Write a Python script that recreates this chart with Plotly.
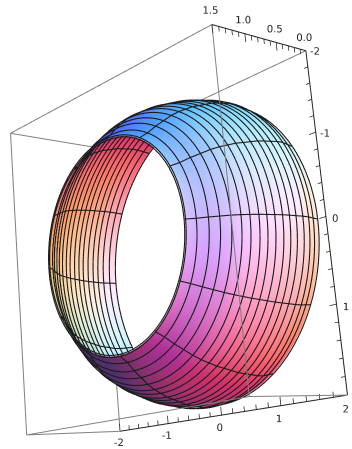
import numpy as np
import plotly.graph_objects as go

# rings of the barrel
ring_depth = [1.5, 1.406, 1.313, 1.219, 1.125, 1.031, 0.938, 0.844, 0.75,
              0.656, 0.563, 0.469, 0.375, 0.281, 0.188, 0.094, 0.0]
ring_radius = [1.29, 1.36, 1.454, 1.533, 1.611, 1.672, 1.716, 1.761, 1.79,
               1.82, 1.85, 1.866, 1.878, 1.894, 1.895, 1.879, 1.864]
spoke_deg = [0, 30, 60, 90, 120, 150, 180, 210, 240, 270, 300, 330]

depth_ticks = [0.0, 0.5, 1.0, 1.5]
depth_labels = ["0.0", "0.5", "1.0", "1.5"]
side_ticks = [-2, -1, 0, 1, 2]
side_labels = ["-2", "-1", "0", "1", "2"]
bottom_labels = ["-2", "-1", "0", "1", "2"]

# camera worked out from the box corners
eye = np.array([2.140, 2.478, -0.711])
cen = np.array([0.0, 0.078, 0.061])
up = np.array([0.089, 0.232, 0.969])
kx, ky, kz = 0.2462, 0.25, 0.2481
focal = 1113.0

fwd = cen - eye
fwd = fwd / np.linalg.norm(fwd)
right = np.cross(fwd, up)
right = right / np.linalg.norm(right)
upv = np.cross(right, fwd)

theta = np.radians(np.arange(0, 360, 3))
depth = np.array(ring_depth)
radius = np.array(ring_radius)
slope = np.gradient(radius, depth)

AA, TT = np.meshgrid(depth, theta, indexing="ij")
RR = np.meshgrid(radius, theta, indexing="ij")[0]
SS = np.meshgrid(slope, theta, indexing="ij")[0]
X = AA
Y = RR * np.cos(TT)
Z = RR * np.sin(TT)
N = np.stack([-SS / kx, np.cos(TT) / ky, np.sin(TT) / kz], axis=-1)
N = N / np.linalg.norm(N, axis=-1, keepdims=True)

# Mathematica style coloured lights, in camera space
light_dirs = [np.array([1.5, -0.35, 1.5]), np.array([1.5, 1.5, 1.5]), np.array([-0.2, 1.5, 1.5])]
light_gain = [0.8, 0.78, 0.8]
ambient = np.array([0.31, 0.19, 0.42])
P = np.stack([(X - 0.75) * kx, Y * ky, Z * kz], axis=-1)
flip = np.sign(np.sum(N * (eye - P), axis=-1, keepdims=True))
n = N * flip
col = np.tile(ambient, (n.shape[0], n.shape[1], 1))
for i, L in enumerate(light_dirs):
    L = L / np.linalg.norm(L)
    w = L[0] * right + L[1] * upv - L[2] * fwd
    col[..., i] += light_gain[i] * np.clip(np.sum(n * w, axis=-1), 0, 1)
col = (np.clip(col, 0, 1) * 255).astype(int)
vcolor = ["rgb(%d,%d,%d)" % tuple(c) for c in col.reshape(-1, 3)]

nr, nt = X.shape
ii = []
jj = []
kk = []
for a in range(nr - 1):
    for b in range(nt):
        b2 = (b + 1) % nt
        p00 = a * nt + b
        p01 = a * nt + b2
        p10 = (a + 1) * nt + b
        p11 = (a + 1) * nt + b2
        ii += [p00, p01]
        jj += [p01, p11]
        kk += [p10, p10]

fig = go.Figure()
fig.add_trace(go.Mesh3d(x=X.ravel(), y=Y.ravel(), z=Z.ravel(), i=ii, j=jj, k=kk, vertexcolor=vcolor,
                        lighting=dict(ambient=1, diffuse=0, specular=0, fresnel=0, roughness=1),
                        hoverinfo="skip", showscale=False))

# mesh lines, once just outside and once just inside so they show on both faces
for off in [0.012, -0.012]:
    lx = []
    ly = []
    lz = []
    for a in range(nr):
        rr = RR[a, 0] + off
        lx += list(AA[a]) + [AA[a, 0], None]
        ly += list(rr * np.cos(theta)) + [rr, None]
        lz += list(rr * np.sin(theta)) + [0, None]
    for d in spoke_deg:
        t = np.radians(d)
        lx += list(depth) + [None]
        ly += list((radius + off) * np.cos(t)) + [None]
        lz += list((radius + off) * np.sin(t)) + [None]
    fig.add_trace(go.Scatter3d(x=lx, y=ly, z=lz, mode="lines", line=dict(color="#1c1c1c", width=2.2),
                               hoverinfo="skip", showlegend=False))


def seg(pairs, color, width):
    xs = []
    ys = []
    zs = []
    for s, e in pairs:
        xs += [s[0], e[0], None]
        ys += [s[1], e[1], None]
        zs += [s[2], e[2], None]
    fig.add_trace(go.Scatter3d(x=xs, y=ys, z=zs, mode="lines", line=dict(color=color, width=width),
                               hoverinfo="skip", showlegend=False))


A = (1.5, 2, 2)
B = (0, 2, 2)
C = (0, 2, -2)
D = (0, -2, -2)
E = (1.5, -2, -2)
F = (1.5, -2, 2)
G = (0, -2, 2)
H = (1.5, 2, -2)
seg([(A, F), (A, H), (F, E), (E, H), (H, C), (F, G), (G, B), (G, D), (E, D)], "#808080", 2)
seg([(A, B), (B, C), (C, D)], "#222222", 2)

tick_pairs = []
for v in np.arange(0, 1.51, 0.1):
    ln = 0.1 if abs(v * 2 - round(v * 2)) < 1e-6 else 0.06
    tick_pairs.append(((v, 2, 2), (v, 2, 2 - ln)))
for v in np.arange(-2, 2.01, 0.2):
    ln = 0.1 if abs(v - round(v)) < 1e-6 else 0.06
    tick_pairs.append(((0, 2, -v), (0, 2 - ln, -v)))
    tick_pairs.append(((0, v, -2), (0, v, -2 + ln)))
seg(tick_pairs, "#222222", 1.5)

font = dict(family="DejaVu Sans", size=10, color="#222222")
fig.add_trace(go.Scatter3d(x=depth_ticks, y=[2] * 4, z=[2.17] * 4, mode="text", text=depth_labels,
                           textposition="middle center", textfont=font, hoverinfo="skip", showlegend=False))
fig.add_trace(go.Scatter3d(x=[0] * 5, y=[2.13] * 5, z=[-v - 0.05 for v in side_ticks], mode="text", text=side_labels,
                           textposition="middle center", textfont=font, hoverinfo="skip", showlegend=False))
fig.add_trace(go.Scatter3d(x=[0] * 5, y=[v - 0.05 for v in side_ticks], z=[-2.14] * 5, mode="text", text=bottom_labels,
                           textposition="middle center", textfont=font, hoverinfo="skip", showlegend=False))

hidden = dict(visible=False)
fig.update_layout(
    width=352, height=449, margin=dict(l=0, r=0, t=0, b=0), paper_bgcolor="white", showlegend=False,
    scene=dict(
        domain=dict(x=[0, 1], y=[0, 1]), dragmode="orbit",
        xaxis=dict(range=[-0.4, 1.9], **hidden),
        yaxis=dict(range=[-2.6, 2.6], **hidden),
        zaxis=dict(range=[-2.6, 2.6], **hidden),
        aspectmode="manual", aspectratio=dict(x=2.3 * kx, y=5.2 * ky, z=5.2 * kz),
        camera=dict(eye=dict(x=eye[0], y=eye[1], z=eye[2]), center=dict(x=0, y=cen[1], z=cen[2]),
                    up=dict(x=up[0], y=up[1], z=up[2]), projection=dict(type="perspective"))))

# the original has a long lens, plotly's default field of view is too wide
fovy = 2 * np.arctan(224.5 / focal)
post = """document.body.style.margin='0';
var gd=document.getElementById('{plot_id}');
var gl3=gd._fullLayout.scene._scene.glplot;
gl3.fovy=%f;gl3.redraw();""" % fovy
fig.write_html("out.html", post_script=post, config=dict(displayModeBar=False))
